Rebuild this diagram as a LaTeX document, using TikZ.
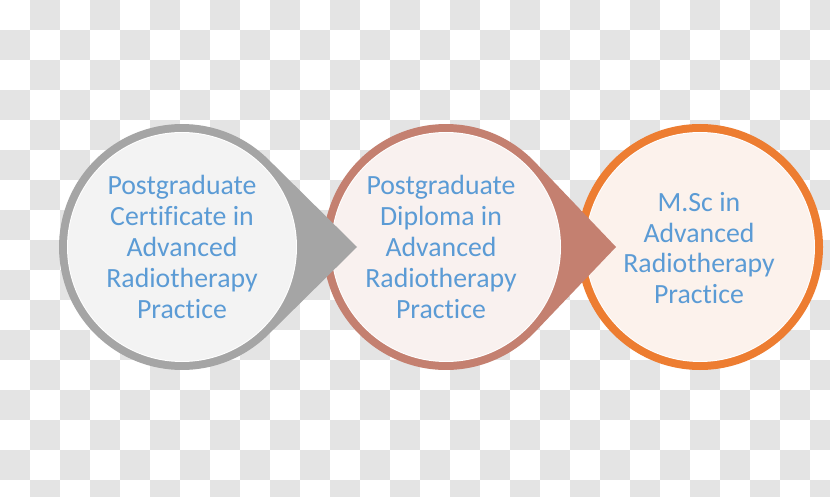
\documentclass[tikz,border=0pt]{standalone}
\usepackage{fontspec}
\setmainfont{Carlito}[Ligatures=NoCommon]
\usetikzlibrary{calc}
\definecolor{checker}{RGB}{228,228,228}
\definecolor{ringA}{RGB}{165,165,165}
\definecolor{fillA}{RGB}{243,243,243}
\definecolor{ringB}{RGB}{196,128,112}
\definecolor{fillB}{RGB}{249,241,239}
\definecolor{ringC}{RGB}{237,125,49}
\definecolor{fillC}{RGB}{252,242,236}
\definecolor{txtblue}{RGB}{91,155,213}
\tikzset{
  label text/.style={text=txtblue, align=center, font=\fontsize{27.8}{30.8}\selectfont, inner sep=0pt},
}
% teardrop: center x, center y, radius, tip x, ring colour, fill colour
\newcommand{\teardrop}[6]{%
  \pgfmathsetmacro{\tdang}{acos(#3/(#4-#1))}%
  \fill[#5] (#4,#2) -- ($(#1,#2)+(\tdang:#3)$) arc[start angle=\tdang, end angle={360-\tdang}, radius=#3] -- cycle;
  \fill[white] (#1,#2) circle ({#3-8});
  \fill[#6] (#1,#2) circle ({#3-9});
}
\begin{document}
\begin{tikzpicture}[x=1pt,y=1pt]
\useasboundingbox (0,0) rectangle (830,496);
\begin{scope}
\clip (0,0) rectangle (830,496);
\fill[white] (0,0) rectangle (830,496);
% checkerboard (top-left square is white; image y measured from top)
\foreach \j in {0,2,...,16} {
  \foreach \i in {1,3,...,27} {
    \fill[checker] (\i*30, 496-\j*30) rectangle ++(30,-30);
  }
}
\foreach \j in {1,3,...,15} {
  \foreach \i in {0,2,...,26} {
    \fill[checker] (\i*30, 496-\j*30) rectangle ++(30,-30);
  }
}
\end{scope}
% circle 3 (drawn first, lies beneath)
\fill[ringC] (700,249) circle (123);
\fill[white] (700,249) circle (115);
\fill[fillC] (700,249) circle (114);
% circle 2 with arrow tip
\teardrop{446}{249}{123}{616}{ringB}{fillB}
% circle 1 with arrow tip
\teardrop{182}{249}{123}{357}{ringA}{fillA}
% texts
\node[label text] (t1) at (182,249) {Postgraduate\\Certificate in\\Advanced\\Radiotherapy\\Practice};
\node[label text] (t2) at (441,249) {Postgraduate\\Diploma in\\Advanced\\Radiotherapy\\Practice};
\node[label text] (t3) at (699,248) {M.Sc in\\Advanced\\Radiotherapy\\Practice};
\end{tikzpicture}
\end{document}
